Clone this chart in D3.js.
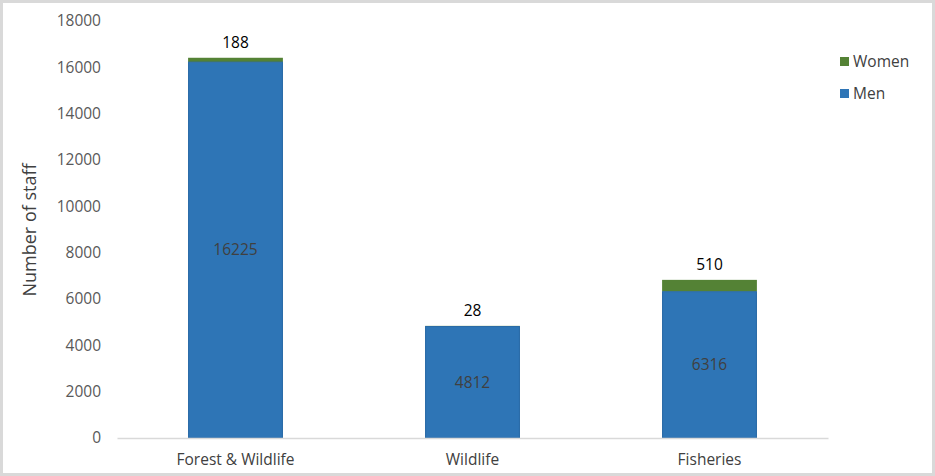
<!DOCTYPE html>
<html><head><meta charset="utf-8">
<script src="https://cdn.jsdelivr.net/npm/d3@7"></script>
<style>body{margin:0;background:#fff}svg{display:block}</style>
</head><body>
<svg id="c" width="935" height="476"></svg>
<script>
const categories = ["Forest & Wildlife", "Wildlife", "Fisheries"];
const men = [16225, 4812, 6316];
const women = [188, 28, 510];
const seriesNames = ["Women", "Men"];
const yTicks = [0, 2000, 4000, 6000, 8000, 10000, 12000, 14000, 16000, 18000];
const colors = {Men: "#2E75B6", Women: "#548235"};

const svg = d3.select("#c");
const font = "'Open Sans', 'Noto Sans', sans-serif";
svg.append("rect").attr("x",1.5).attr("y",1.5).attr("width",932).attr("height",473)
  .attr("fill","#fff").attr("stroke","#d9d9d9").attr("stroke-width",3);

const x = d3.scaleBand().domain(categories).range([117, 828]).paddingInner(0.6).paddingOuter(0.3);
const y = d3.scaleLinear().domain([0, 18000]).range([438, 21]);

const data = categories.map((c,i)=>({cat:c, Men:men[i], Women:women[i]}));
const stack = d3.stack().keys(["Men","Women"])(data);

// y axis labels
const ya = svg.append("g").attr("transform","translate(101,0)")
  .call(d3.axisLeft(y).tickValues(yTicks).tickSize(0).tickPadding(0).tickFormat(d3.format("d")));
ya.select(".domain").remove();
ya.selectAll("text").attr("font-family",font).attr("font-size",15.5).attr("fill","#595959");

// bars
stack.forEach(s=>{
  svg.append("g").selectAll("rect").data(s).join("rect")
    .attr("x", d=>x(d.data.cat)).attr("width", x.bandwidth())
    .attr("y", d=>y(d[1])).attr("height", d=>y(d[0])-y(d[1]))
    .attr("fill", colors[s.key]);
});
// bar outlines
svg.append("g").selectAll("rect").data(stack[0]).join("rect")
  .attr("x", d=>x(d.data.cat)+0.5).attr("width", x.bandwidth()-1)
  .attr("y", d=>y(d[1])).attr("height", d=>y(d[0])-y(d[1]))
  .attr("fill","none").attr("stroke","#2a6aa6").attr("stroke-width",1);

// x axis
const xa = svg.append("g").attr("transform","translate(0,438)")
  .call(d3.axisBottom(x).tickSize(0).tickPadding(16));
xa.select(".domain").attr("stroke","#d9d9d9").attr("stroke-width",1.5);
xa.selectAll("text").attr("font-family",font).attr("font-size",15.5).attr("fill","#404040");

// men labels (inside)
svg.append("g").selectAll("text").data(stack[0]).join("text")
  .attr("x", d=>x(d.data.cat)+x.bandwidth()/2)
  .attr("y", d=>(y(d[0])+y(d[1]))/2)
  .attr("dy","0.35em").attr("text-anchor","middle")
  .attr("font-family",font).attr("font-size",15.5).attr("fill","#404040")
  .text(d=>d.data.Men);
// women labels (above)
svg.append("g").selectAll("text").data(stack[1]).join("text")
  .attr("x", d=>x(d.data.cat)+x.bandwidth()/2)
  .attr("y", d=>y(d[1])-15)
  .attr("dy","0.35em").attr("text-anchor","middle")
  .attr("font-family",font).attr("font-size",15.5).attr("fill","#000")
  .text(d=>d.data.Women);

// y title
svg.append("text").attr("transform","translate(30,230) rotate(-90)")
  .attr("text-anchor","middle").attr("dy","0.35em")
  .attr("font-family",font).attr("font-size",18).attr("fill","#404040")
  .text("Number of staff");

// legend
const lg = svg.append("g");
seriesNames.forEach((n,i)=>{
  const g = lg.append("g").attr("transform",`translate(840,${57+i*32})`);
  g.append("rect").attr("width",9).attr("height",9).attr("fill",colors[n]);
  g.append("text").attr("x",13).attr("y",4.5).attr("dy","0.35em")
    .attr("font-family",font).attr("font-size",15.5).attr("fill","#404040").text(n);
});
</script>
</body></html>
